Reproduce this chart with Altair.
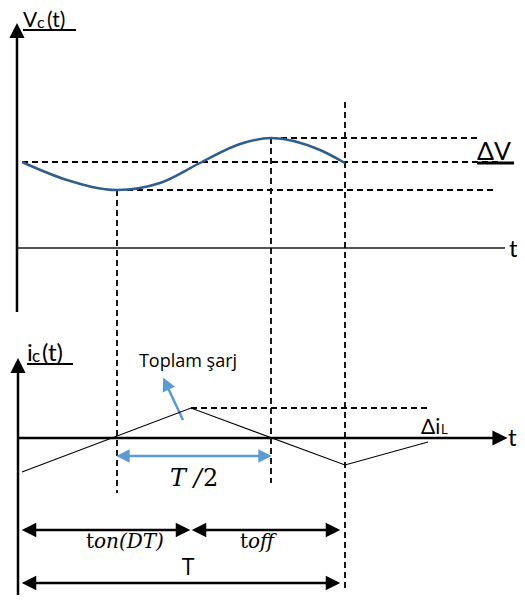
import altair as alt
import pandas as pd

# ---- diagram coordinate frame (page pixels) ----
X_DOMAIN = [8, 517]
Y_DOMAIN = [595, 8]

# ---- Vc(t) waveform (capacitor voltage ripple) ----
vc_t = [22, 67, 117, 160, 200, 240, 271, 320, 345]
vc_v = [162, 180, 190, 183, 163, 144, 138, 150, 163]

# ---- ic(t) waveform (capacitor current, triangular) ----
ic_t = [22, 191, 345, 428]
ic_i = [472, 408, 465, 442]

# ---- solid segments: x, y, x2, y2, width, color ----
solid_x  = [17, 17, 18, 17, 125, 183, 30, 200, 30, 23, 27, 477]
solid_y  = [36, 248, 370, 438, 456, 420, 530, 530, 583, 30, 364, 163]
solid_x2 = [17, 505, 18, 497, 265, 168, 180, 330, 330, 76, 73, 514]
solid_y2 = [312, 248, 597, 438, 456, 388, 530, 530, 583, 30, 364, 163]
solid_w  = [2.5, 1.5, 2.5, 2.5, 2.5, 2.5, 2.5, 2.5, 2.5, 2, 2, 3]
solid_c  = ["black", "#1a1a1a", "black", "black", "#5B9BD5", "#5B9BD5",
            "black", "black", "black", "black", "black", "black"]

# ---- dashed guide lines ----
dash_x  = [22, 117, 271, 117, 271, 345, 191]
dash_y  = [162, 190, 138, 190, 138, 102, 408]
dash_x2 = [500, 497, 478, 117, 271, 345, 427]
dash_y2 = [162, 190, 138, 493, 483, 592, 408]

# ---- arrowheads: centre x, y, angle, size, color ----
head_x = [17, 18, 500, 123, 265, 166, 29, 183, 199, 333, 29, 333]
head_y = [30.5, 365.5, 438, 456, 456, 383.5, 530, 530, 530, 530, 583, 583]
head_a = [0, 0, 90, 270, 90, 335, 270, 90, 270, 90, 270, 90]
head_s = [230, 230, 230, 180, 180, 180, 210, 210, 210, 210, 210, 210]
head_c = ["black", "black", "black", "#5B9BD5", "#5B9BD5", "#5B9BD5",
          "black", "black", "black", "black", "black", "black"]

# ---- sans labels: text, x, y(baseline), size ----
sans_t = ["V", "c", "(t)", "i", "c", "(t)", "ΔV", "Δi", "L", "t", "t"]
sans_x = [23, 37, 47, 27, 32, 42, 477, 421, 441, 509, 508]
sans_y = [27, 28, 27, 361, 362, 361, 160, 434, 434, 257, 446]
sans_s = [21, 16, 21, 24, 17, 24, 25, 21, 13, 24, 24]

center_t = ["Toplam şarj", "T"]
center_x = [188, 188]
center_y = [367, 575]
center_s = [18, 23]

# ---- math labels (serif) ----
upright_t = ["t", "t", "2"]
upright_x = [86, 240, 203]
upright_y = [548, 548, 486]
upright_s = [20, 20, 24]

italic_t = ["on(DT)", "off", "T /"]
italic_x = [94, 248, 170]
italic_y = [548, 548, 486]
italic_s = [20, 20, 24]

XS = alt.Scale(domain=X_DOMAIN)
YS = alt.Scale(domain=Y_DOMAIN)


def X(f="x"):
    return alt.X(f"{f}:Q", scale=XS, axis=None)


def Y(f="y"):
    return alt.Y(f"{f}:Q", scale=YS, axis=None)


layers = []

# solid segments
seg = pd.DataFrame(dict(x=solid_x, y=solid_y, x2=solid_x2, y2=solid_y2,
                        w=solid_w, c=solid_c))
layers.append(alt.Chart(seg).mark_rule(strokeCap="butt").encode(
    x=X(), y=Y(), x2="x2:Q", y2="y2:Q",
    strokeWidth=alt.StrokeWidth("w:Q", scale=None),
    color=alt.Color("c:N", scale=None)))

# dashed guide lines
dsh = pd.DataFrame(dict(x=dash_x, y=dash_y, x2=dash_x2, y2=dash_y2))
layers.append(alt.Chart(dsh).mark_rule(strokeDash=[6, 4], strokeWidth=1.8,
                                       color="black").encode(
    x=X(), y=Y(), x2="x2:Q", y2="y2:Q"))

# Vc curve
vc = pd.DataFrame(dict(x=vc_t, y=vc_v))
layers.append(alt.Chart(vc).mark_line(interpolate="monotone", strokeWidth=2.5,
                                      color="#2F5D8C").encode(
    x=X(), y=Y(), order="x:Q"))

# ic triangle
ic = pd.DataFrame(dict(x=ic_t, y=ic_i, o=list(range(len(ic_t)))))
layers.append(alt.Chart(ic).mark_line(strokeWidth=1.1, color="black").encode(
    x=X(), y=Y(), order="o:Q"))

# arrowheads
hd = pd.DataFrame(dict(x=head_x, y=head_y, a=head_a, s=head_s, c=head_c))
layers.append(alt.Chart(hd).mark_point(shape="M0,-1L1,1L-1,1Z", filled=True,
                                       opacity=1, strokeWidth=0).encode(
    x=X(), y=Y(),
    angle=alt.Angle("a:Q", scale=None),
    size=alt.Size("s:Q", scale=None),
    color=alt.Color("c:N", scale=None)))


def text_layer(t, x, y, s, font, align="left", style="normal"):
    df = pd.DataFrame(dict(t=t, x=x, y=y, s=s))
    return alt.Chart(df).mark_text(align=align, baseline="alphabetic",
                                   font=font, fontStyle=style,
                                   color="black").encode(
        x=X(), y=Y(), text="t:N", size=alt.Size("s:Q", scale=None))


layers.append(text_layer(sans_t, sans_x, sans_y, sans_s, "Lato"))
layers.append(text_layer(center_t, center_x, center_y, center_s, "Open Sans",
                         align="center"))
layers.append(text_layer(upright_t, upright_x, upright_y, upright_s,
                         "DejaVu Serif"))
layers.append(text_layer(italic_t, italic_x, italic_y, italic_s,
                         "DejaVu Serif", style="italic"))

chart = alt.layer(*layers).properties(
    width=509, height=587, padding=0, autosize="none"
).configure_view(stroke=None)

chart.save("out.html", embed_options={"renderer": "svg", "actions": False})
